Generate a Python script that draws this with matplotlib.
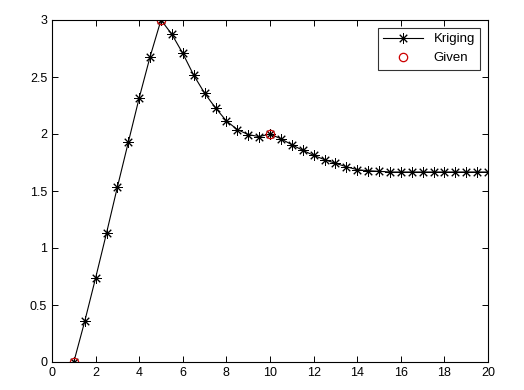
import numpy as np
import matplotlib.pyplot as plt

# kriging prediction, x = 1 .. 20 step 0.5
krig_x = np.arange(1, 20.5, 0.5)
krig_y = [0.0, 0.356, 0.737, 1.13, 1.535, 1.927, 2.317, 2.678,
          3.0, 2.874, 2.707, 2.516, 2.358, 2.229, 2.115, 2.039,
          1.995, 1.977, 2.0, 1.958, 1.906, 1.857, 1.813, 1.775,
          1.743, 1.713, 1.687, 1.678, 1.673, 1.6667, 1.6667, 1.6667,
          1.6667, 1.6667, 1.6667, 1.6667, 1.6667, 1.6667, 1.6667]

given_x = [1, 5, 10]
given_y = [0, 3, 2]

plt.rcParams['font.family'] = ['Liberation Sans', 'DejaVu Sans']

fig = plt.figure(figsize=(5.24, 3.9), dpi=100)
ax = fig.add_axes([52 / 524, 28 / 390, 436 / 524, 342 / 390])

# matlab style asterisk: plus + cross
ax.plot(krig_x, krig_y, '-', color='k', lw=0.8, marker=(8, 2, 0), ms=7.5,
        mew=0.7, label='Kriging')
ax.plot(given_x, given_y, 'o', mfc='none', mec='#cc0000', ms=6,
        mew=0.9, label='Given')

ax.set_xlim(0, 20)
ax.set_ylim(0, 3)
ax.set_xticks(np.arange(0, 21, 2))
ax.set_yticks([0, 0.5, 1, 1.5, 2, 2.5, 3])
ax.set_yticklabels(['0', '0.5', '1', '1.5', '2', '2.5', '3'])
ax.tick_params(direction='in', top=True, right=True, labelsize=9,
               length=4, width=0.7)
for s in ax.spines.values():
    s.set_linewidth(0.8)

leg = ax.legend(loc='upper right', fontsize=9.5, frameon=True, fancybox=False,
                edgecolor='k', borderpad=0.4, handlelength=3,
                borderaxespad=0.6)
leg.get_frame().set_linewidth(0.8)

fig.savefig('out.png', dpi=100)
